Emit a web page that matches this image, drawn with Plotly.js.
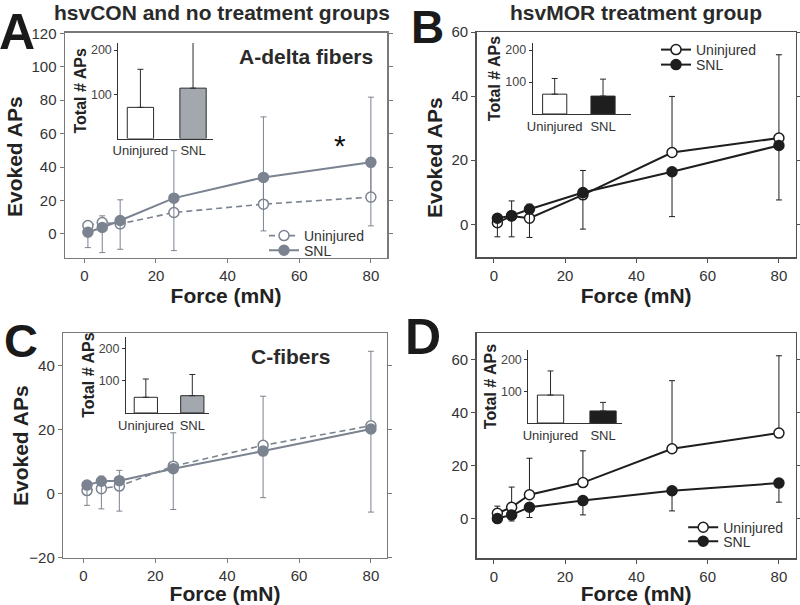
<!DOCTYPE html>
<html>
<head>
<meta charset="utf-8">
<script src="https://cdn.plot.ly/plotly-3.0.1.min.js"></script>
<style>html,body{margin:0;padding:0;background:#fff;}#chart{width:800px;height:605px;}</style>
</head>
<body>
<div id="chart"></div>
<script>
// ---------- DATA ----------
const force = [1, 5, 10, 25, 50, 80];
const forceTicks = [0, 20, 40, 60, 80];

// Panel A (hsvCON / no treatment, A-delta fibers)
const aUninj       = [5.0, 6.8, 6.0, 12.8, 17.8, 22.0];
const aUninjErrUp  = [2.0, 4.0, 14.4, 37.0, 52.2, 59.8];
const aUninjErrDn  = [0, 0, 0, 0, 0, 0];
const aSnl         = [1.0, 3.8, 8.0, 21.4, 33.8, 42.8];
const aSnlErrUp    = [0, 0, 0, 0, 0, 0];
const aSnlErrDn    = [9.2, 15.0, 17.2, 31.4, 32.0, 38.0];

// Panel B (hsvMOR, A-delta fibers)
const bUninj       = [0.5, 2.6, 1.9, 9.2, 22.4, 26.9];
const bUninjErrUp  = [1.5, 4.7, 4.4, 7.6, 17.5, 26.0];
const bUninjErrDn  = [0, 0, 0, 0, 0, 0];
const bSnl         = [1.9, 2.7, 4.7, 9.9, 16.4, 24.6];
const bSnlErrUp    = [0, 0, 0, 0, 0, 0];
const bSnlErrDn    = [5.8, 6.6, 8.8, 11.4, 14.0, 17.0];

// Panel C (hsvCON / no treatment, C-fibers)
const cUninj       = [1.0, 1.6, 2.4, 8.6, 15.1, 21.2];
const cUninjErrUp  = [2.5, 3.9, 4.9, 10.4, 15.3, 23.2];
const cUninjErrDn  = [0, 0, 0, 0, 0, 0];
const cSnl         = [2.7, 3.9, 4.1, 7.8, 13.3, 20.2];
const cSnlErrUp    = [0, 0, 0, 0, 0, 0];
const cSnlErrDn    = [6.3, 8.6, 9.5, 12.7, 14.5, 25.9];

// Panel D (hsvMOR, C-fibers)
const dUninj       = [2.0, 4.3, 9.0, 13.6, 26.4, 32.3];
const dUninjErrUp  = [2.7, 7.6, 13.8, 12.0, 25.7, 29.2];
const dUninjErrDn  = [0, 0, 0, 0, 0, 0];
const dSnl         = [0.0, 1.4, 4.3, 6.8, 10.5, 13.4];
const dSnlErrUp    = [0.8, 0, 0, 0, 0, 0];
const dSnlErrDn    = [1.5, 2.3, 3.9, 5.4, 7.6, 7.2];

// Insets: Total # APs
const groups = ['Uninjured', 'SNL'];
const insetA = [70.6, 114];  const insetAErr = [86, 109];
const insetB = [62, 56];     const insetBErr = [49, 53];
const insetC = [48.5, 53.4]; const insetCErr = [56.5, 65.6];
const insetD = [88, 38];     const insetDErr = [76, 27];
const zero2 = [0, 0];

// ---------- STYLE ----------
const FONT = '"Liberation Sans", Arial, sans-serif';
const GRAY = '#7b8390';
const BLACK = '#1e1e1e';
const TXT = '#333333';

function lineTrace(y, up, dn, xa, ya, color, dash, lw, filled, name, legend, show) {
  return {
    type: 'scatter', mode: 'lines+markers', x: force, y: y, xaxis: xa, yaxis: ya,
    name: name, legend: legend, showlegend: show,
    line: {color: color, width: lw, dash: dash},
    marker: {symbol: 'circle', size: 10, color: filled ? color : 'white', line: {color: color, width: 1.5}},
    error_y: {type: 'data', symmetric: false, array: up, arrayminus: dn, color: color, thickness: 1, width: 3}
  };
}
function barTrace(vals, err, xa, ya, snlColor) {
  return {
    type: 'bar', x: groups, y: vals, xaxis: xa, yaxis: ya, showlegend: false, width: 0.5,
    marker: {color: ['white', snlColor], line: {color: '#2a2a2a', width: 1}},
    error_y: {type: 'data', symmetric: false, array: err, arrayminus: zero2, color: '#2a2a2a', thickness: 1, width: 3},
    cliponaxis: false
  };
}

const data = [
  lineTrace(aUninj, aUninjErrUp, aUninjErrDn, 'x', 'y', GRAY, '6px,4px', 1.6, false, 'Uninjured', 'legend', true),
  lineTrace(aSnl, aSnlErrUp, aSnlErrDn, 'x', 'y', GRAY, 'solid', 2, true, 'SNL', 'legend2', true),
  lineTrace(bUninj, bUninjErrUp, bUninjErrDn, 'x2', 'y2', BLACK, 'solid', 2, false, 'Uninjured', 'legend3', true),
  lineTrace(bSnl, bSnlErrUp, bSnlErrDn, 'x2', 'y2', BLACK, 'solid', 2, true, 'SNL', 'legend4', true),
  lineTrace(cUninj, cUninjErrUp, cUninjErrDn, 'x3', 'y3', GRAY, '6px,4px', 1.6, false, 'Uninjured', 'legend', false),
  lineTrace(cSnl, cSnlErrUp, cSnlErrDn, 'x3', 'y3', GRAY, 'solid', 2, true, 'SNL', 'legend', false),
  lineTrace(dUninj, dUninjErrUp, dUninjErrDn, 'x4', 'y4', BLACK, 'solid', 2, false, 'Uninjured', 'legend5', true),
  lineTrace(dSnl, dSnlErrUp, dSnlErrDn, 'x4', 'y4', BLACK, 'solid', 2, true, 'SNL', 'legend6', true),
  barTrace(insetA, insetAErr, 'x5', 'y5', '#a3a7ae'),
  barTrace(insetB, insetBErr, 'x6', 'y6', BLACK),
  barTrace(insetC, insetCErr, 'x7', 'y7', '#a3a7ae'),
  barTrace(insetD, insetDErr, 'x8', 'y8', BLACK)
];

function mainX(domain, range, anchor, lc) {
  return {domain: domain, range: range, anchor: anchor, tickvals: forceTicks, ticks: 'outside', ticklen: 4,
    tickcolor: lc, showline: true, linecolor: lc, linewidth: 1.5, mirror: true, showgrid: false, zeroline: false,
    tickfont: {size: 15, color: TXT},
    title: {text: 'Force (mN)', font: {size: 21, color: '#222', weight: 'bold'}, standoff: 5}};
}
function mainY(domain, range, anchor, lc, dtick) {
  return {domain: domain, range: range, anchor: anchor, dtick: dtick, tick0: 0, ticks: 'outside', ticklen: 4,
    tickcolor: lc, showline: true, linecolor: lc, linewidth: 1.5, mirror: 'ticks', showgrid: false, zeroline: false,
    tickfont: {size: 15, color: TXT}};
}
function insetX(domain, range, anchor) {
  return {domain: domain, range: range, anchor: anchor, type: 'category', showline: true, linecolor: '#333',
    linewidth: 1, ticks: '', showgrid: false, zeroline: false, tickfont: {size: 13, color: TXT}};
}
function insetY(domain, range, anchor) {
  return {domain: domain, range: range, anchor: anchor, tickvals: [100, 200], ticks: 'outside', ticklen: 3,
    tickcolor: '#333', showline: true, linecolor: '#333', linewidth: 1, showgrid: false, zeroline: false,
    tickfont: {size: 12.5, color: '#444'},
    title: {text: '<b>Total # APs</b>', font: {size: 16, color: '#222'}, standoff: 0}};
}

function legendAt(x, y) {
  return {x: x, y: y, xanchor: 'left', yanchor: 'top', bgcolor: 'rgba(0,0,0,0)', borderwidth: 0,
    font: {size: 14, color: TXT}, tracegroupgap: 0, itemclick: false};
}

function yTitle(text, px, py) {
  return {text: text, xref: 'paper', yref: 'paper', x: px / 800, y: 1 - py / 605, xanchor: 'center', yanchor: 'middle',
    textangle: -90, showarrow: false, font: {size: 21, color: '#222', weight: 'bold'}};
}

const layout = {
  width: 800, height: 605, margin: {l: 0, r: 0, t: 0, b: 0},
  paper_bgcolor: 'white', plot_bgcolor: 'rgba(0,0,0,0)',
  font: {family: FONT, color: TXT},
  showlegend: true,
  xaxis:  mainX([0.08125, 0.48375], [-5.4, 84.5], 'y', '#7a7a7a'),
  yaxis:  mainY([0.5736, 0.9455], [-14.4, 120.2], 'x', '#7a7a7a', 20),
  xaxis2: mainX([0.5959, 0.9946], [-4.8, 84.7], 'y2', '#505050'),
  yaxis2: mainY([0.5752, 0.9471], [-10.2, 60], 'x2', '#505050', 20),
  xaxis3: mainX([0.0791, 0.4834], [-5.6, 84.4], 'y3', '#7a7a7a'),
  yaxis3: mainY([0.0777, 0.4491], [-20, 50], 'x3', '#7a7a7a', 20),
  xaxis4: mainX([0.5959, 0.9946], [-4.8, 84.7], 'y4', '#505050'),
  yaxis4: mainY([0.0772, 0.4491], [-15, 70], 'x4', '#505050', 20),
  xaxis5: insetX([0.1479, 0.2663], [-0.42, 1.38], 'y5'),
  yaxis5: insetY([0.7709, 0.9289], [0, 216], 'x5'),
  xaxis6: insetX([0.6659, 0.7888], [-0.455, 1.58], 'y6'),
  yaxis6: insetY([0.8116, 0.9289], [0, 222], 'x6'),
  xaxis7: insetX([0.1575, 0.2613], [-0.427, 1.36], 'y7'),
  yaxis7: insetY([0.3174, 0.4425], [0, 234], 'x7'),
  xaxis8: insetX([0.6604, 0.7771], [-0.423, 1.355], 'y8'),
  yaxis8: insetY([0.3008, 0.4215], [0, 230], 'x8'),
  legend:  legendAt(0.33, 0.6364),
  legend2: legendAt(0.33, 0.6121),
  legend3: legendAt(0.82, 0.9438),
  legend4: legendAt(0.82, 0.919),
  legend5: legendAt(0.854, 0.1542),
  legend6: legendAt(0.854, 0.1311),
  annotations: [
    {text: 'hsvCON and no treatment groups', xref: 'paper', yref: 'paper', x: 0.2769, y: 0.980, xanchor: 'center', yanchor: 'middle', showarrow: false, font: {size: 21, color: '#2a2a2a', weight: 'bold'}},
    {text: 'hsvMOR treatment group', xref: 'paper', yref: 'paper', x: 0.7956, y: 0.980, xanchor: 'center', yanchor: 'middle', showarrow: false, font: {size: 21, color: '#2a2a2a', weight: 'bold'}},
    {text: 'A', xref: 'paper', yref: 'paper', x: -0.004, y: 0.947, xanchor: 'left', yanchor: 'middle', showarrow: false, font: {size: 50, color: '#1a1a1a', weight: 'bold'}},
    {text: 'B', xref: 'paper', yref: 'paper', x: 0.511, y: 0.955, xanchor: 'left', yanchor: 'middle', showarrow: false, font: {size: 46, color: '#1a1a1a', weight: 'bold'}},
    {text: 'C', xref: 'paper', yref: 'paper', x: 0.002, y: 0.4365, xanchor: 'left', yanchor: 'middle', showarrow: false, font: {size: 47, color: '#1a1a1a', weight: 'bold'}},
    {text: 'D', xref: 'paper', yref: 'paper', x: 0.504, y: 0.443, xanchor: 'left', yanchor: 'middle', showarrow: false, font: {size: 50, color: '#1a1a1a', weight: 'bold'}},
    {text: 'A-delta fibers', xref: 'paper', yref: 'paper', x: 0.4688, y: 0.9058, xanchor: 'right', yanchor: 'middle', showarrow: false, font: {size: 21, color: '#2a2a2a', weight: 'bold'}},
    {text: 'C-fibers', xref: 'paper', yref: 'paper', x: 0.4146, y: 0.4107, xanchor: 'right', yanchor: 'middle', showarrow: false, font: {size: 21, color: '#2a2a2a', weight: 'bold'}},
    {text: '*', xref: 'x', yref: 'y', x: 71.4, y: 53, xanchor: 'center', yanchor: 'middle', showarrow: false, font: {size: 30, color: '#111'}},
    yTitle('Evoked APs', 15, 157),
    yTitle('Evoked APs', 435, 157),
    yTitle('Evoked APs', 20, 446)
  ]
};

Plotly.newPlot('chart', data, layout, {displayModeBar: false, staticPlot: true});
</script>
</body>
</html>
